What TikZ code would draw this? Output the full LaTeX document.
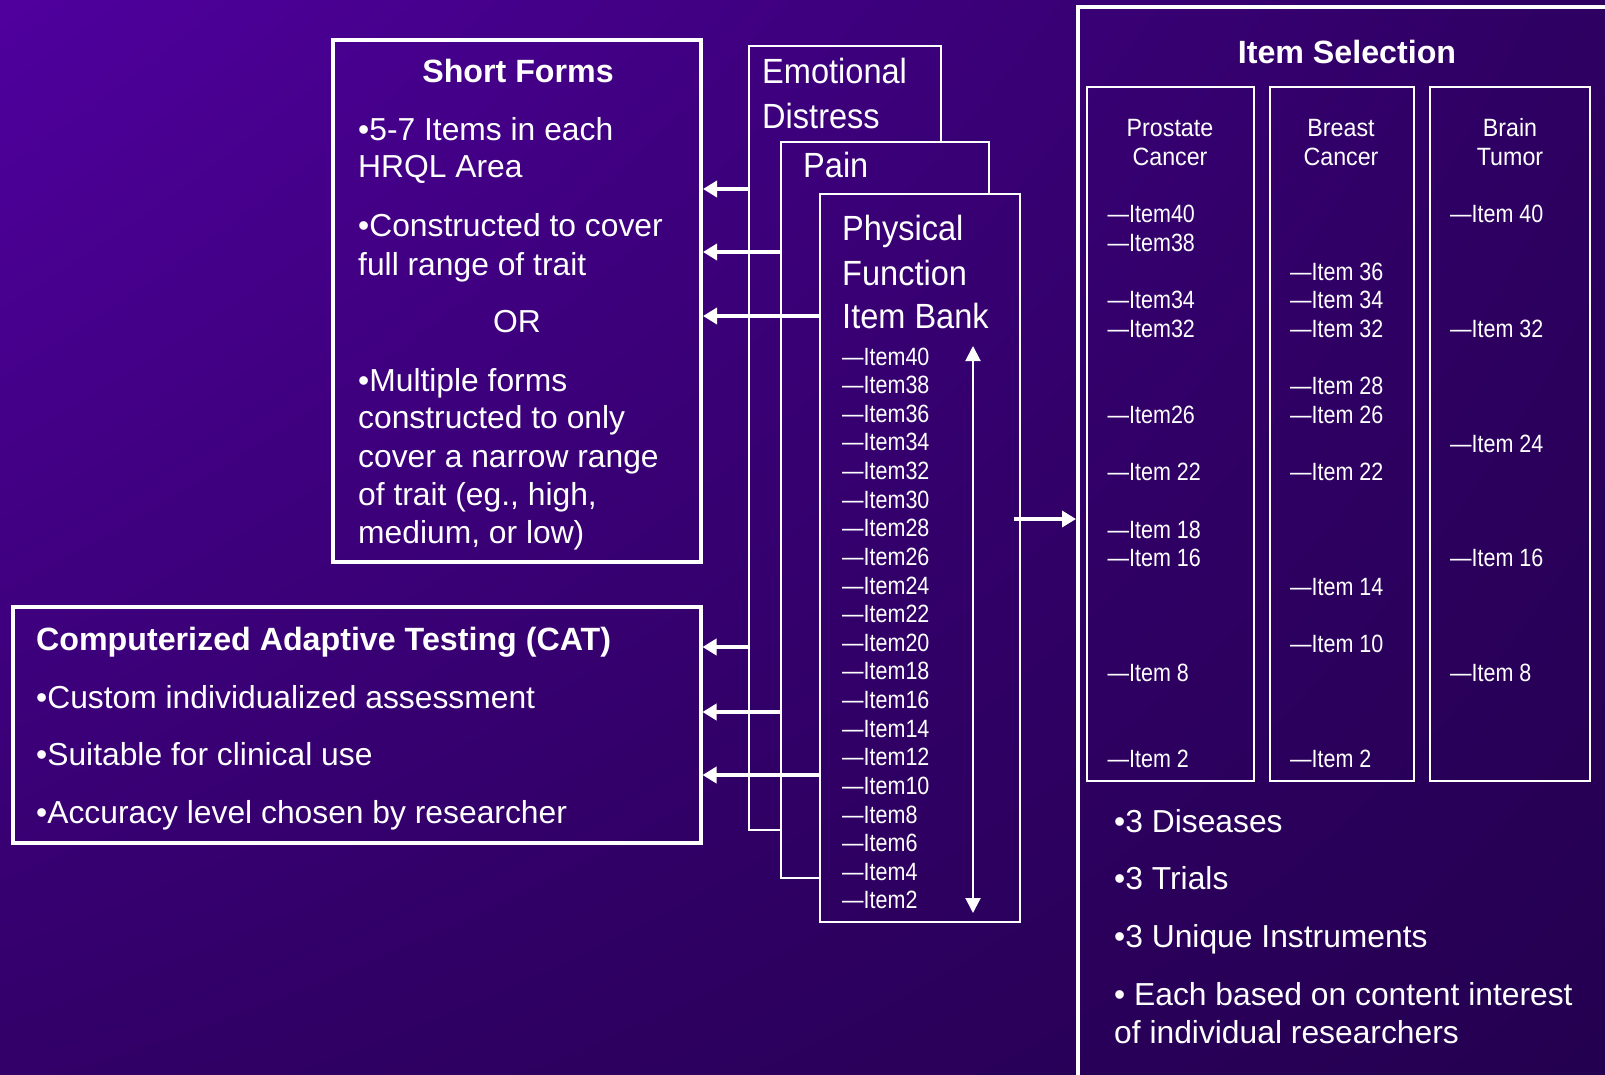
\documentclass[tikz,border=0pt]{standalone}
\usepackage{fontspec}
\setmainfont{Liberation Sans}
\newfontfamily\condfont[FakeStretch=0.93]{Liberation Sans}
\newfontfamily\itemfont[FakeStretch=0.86]{Liberation Sans}
\usetikzlibrary{arrows.meta, positioning, shadings}
\definecolor{bgUL}{RGB}{80, 0, 158}
\definecolor{bgUR}{RGB}{46, 0, 98}
\definecolor{bgLL}{RGB}{50, 0, 104}
\definecolor{bgLR}{RGB}{36, 0, 80}

\begin{document}
\begin{tikzpicture}[x=1pt, y=-1pt,
    bgshade/.style={upper left=bgUL, upper right=bgUR, lower left=bgLL, lower right=bgLR},
    bgfill/.style={path picture={\shade[bgshade] (bgtl) rectangle (bgbr);}},
    panel/.style={draw=white, line width=4pt, inner sep=0pt, anchor=north west},
    bank/.style={draw=white, line width=1.8pt, inner sep=0pt, anchor=north west, bgfill},
    cancer/.style={draw=white, line width=1.8pt, inner sep=0pt, anchor=north west},
    boxtitle/.style={text=white, inner sep=0pt, anchor=base, font=\bfseries\fontsize{32.2}{38}\selectfont},
    bullet/.style={text=white, inner sep=0pt, anchor=base west, font=\fontsize{31.8}{38}\selectfont},
    bankname/.style={text=white, inner sep=0pt, anchor=base west, font=\condfont\fontsize{35}{44}\selectfont},
    itemlabel/.style={text=white, inner sep=0pt, anchor=base west, font=\itemfont\fontsize{25}{29}\selectfont},
    colname/.style={text=white, inner sep=0pt, anchor=base, font=\condfont\fontsize{25}{29}\selectfont},
    feed/.style={-{Triangle[length=14pt, width=16pt]}, line width=4.5pt, white},
    rangearrow/.style={{Triangle[length=15pt, width=15pt]}-{Triangle[length=15pt, width=15pt]}, line width=2pt, white}]
    \coordinate (bgtl) at (0,0);
    \coordinate (bgbr) at (1605,1075);
    \useasboundingbox (bgtl) rectangle (bgbr);
    \clip (bgtl) rectangle (bgbr);
    \shade[bgshade] (bgtl) rectangle (bgbr);

    % left panels
    \node[panel, minimum width=368pt, minimum height=522pt] (sf) at (331,38) {};
    \node[panel, minimum width=688pt, minimum height=236pt] (cat) at (10.5,604.5) {};
    \node[boxtitle] (sftitle) at (518,83) {Short Forms};
    \node[bullet] (sfa) at (358,141) {•5-7 Items in each};
    \node[bullet] (sfb) at (358,178) {HRQL Area};
    \node[bullet] (sfc) at (358,237) {•Constructed to cover};
    \node[bullet] (sfd) at (358,275) {full range of trait};
    \node[bullet, anchor=base] (sfor) at (517,332) {OR};
    \node[bullet] (sfe) at (358,391) {•Multiple forms};
    \node[bullet] (sff) at (358,428) {constructed to only};
    \node[bullet] (sfg) at (358,467) {cover a narrow range};
    \node[bullet] (sfh) at (358,505) {of trait (eg., high,};
    \node[bullet] (sfi) at (358,543) {medium, or low)};
    \node[boxtitle, anchor=base west] (cattitle) at (36,650) {Computerized Adaptive Testing (CAT)};
    \node[bullet] (cata) at (36,708) {•Custom individualized assessment};
    \node[bullet] (catb) at (36,765.5) {•Suitable for clinical use};
    \node[bullet] (catc) at (36,823) {•Accuracy level chosen by researcher};

    % item banks
    \node[bank, minimum width=192pt, minimum height=784pt] (emo) at (748.1,45.1) {};
    \node[bankname] (emoa) at (762,84) {Emotional};
    \node[bankname] (emob) at (762,129) {Distress};
    \node[bank, minimum width=208pt, minimum height=736pt] (pain) at (780.1,141.1) {};
    \node[bankname] (paina) at (803,178) {Pain};
    \node[bank, minimum width=200pt, minimum height=728pt] (phys) at (819.1,193.1) {};
    \node[bankname] (physa) at (842,241) {Physical};
    \node[bankname] (physb) at (842,285) {Function};
    \node[bankname] (physc) at (842,328) {Item Bank};
    \foreach \n in {40,38,...,2}
        \node[itemlabel] (pf\n) at (842,{365+(40-\n)*14.315}) {—Item\n};
    \coordinate (rangetop) at (973,346);
    \coordinate (rangebot) at (973,913);
    \draw[rangearrow] (rangetop) -- (rangebot);

    \draw[feed] (emo.west |- 0,189) -- (sf.east |- 0,189);
    \draw[feed] (pain.west |- 0,252) -- (sf.east |- 0,252);
    \draw[feed] (phys.west |- 0,316) -- (sf.east |- 0,316);
    \draw[feed] (emo.west |- 0,647) -- (cat.east |- 0,647);
    \draw[feed] (pain.west |- 0,712) -- (cat.east |- 0,712);
    \draw[feed] (phys.west |- 0,775) -- (cat.east |- 0,775);

    % item selection
    \node[panel, minimum width=600pt, minimum height=1100pt] (sel) at (1076,5) {};
    \draw[feed, shorten <=-7pt] (phys.east |- 0,519) -- (sel.west |- 0,519);
    \node[boxtitle] (seltitle) at (1347,64) {Item Selection};
    \node[cancer, minimum width=167pt, minimum height=694pt] (prost) at (1086.1,86.1) {};
    \node[cancer, minimum width=144pt, minimum height=694pt] (breast) at (1269.1,86.1) {};
    \node[cancer, minimum width=160pt, minimum height=694pt] (brain) at (1429.1,86.1) {};
    \node[colname] (prosta) at (1170,137) {Prostate};
    \node[colname] (prostb) at (1170,166) {Cancer};
    \node[colname] (breasta) at (1341,137) {Breast};
    \node[colname] (breastb) at (1341,166) {Cancer};
    \node[colname] (braina) at (1510,137) {Brain};
    \node[colname] (brainb) at (1510,166) {Tumor};
    \foreach \n/\lbl in {40/Item40, 38/Item38, 34/Item34, 32/Item32, 26/Item26,
                          22/Item 22, 18/Item 18, 16/Item 16, 8/Item 8, 2/Item 2}
        \node[itemlabel] (pc\n) at (1107.5,{223+(40-\n)*14.33}) {—\lbl};
    \foreach \n in {36,34,32,28,26,22,14,10,2}
        \node[itemlabel] (bc\n) at (1290,{223+(40-\n)*14.33}) {—Item \n};
    \foreach \n in {40,32,24,16,8}
        \node[itemlabel] (bt\n) at (1450,{223+(40-\n)*14.33}) {—Item \n};
    \node[bullet] (sela) at (1114,832) {•3 Diseases};
    \node[bullet] (selb) at (1114,889) {•3 Trials};
    \node[bullet] (selc) at (1114,947) {•3 Unique Instruments};
    \node[bullet] (seld) at (1114,1005) {• Each based on content interest};
    \node[bullet] (sele) at (1114,1043) {of individual researchers};
\end{tikzpicture}
\end{document}
